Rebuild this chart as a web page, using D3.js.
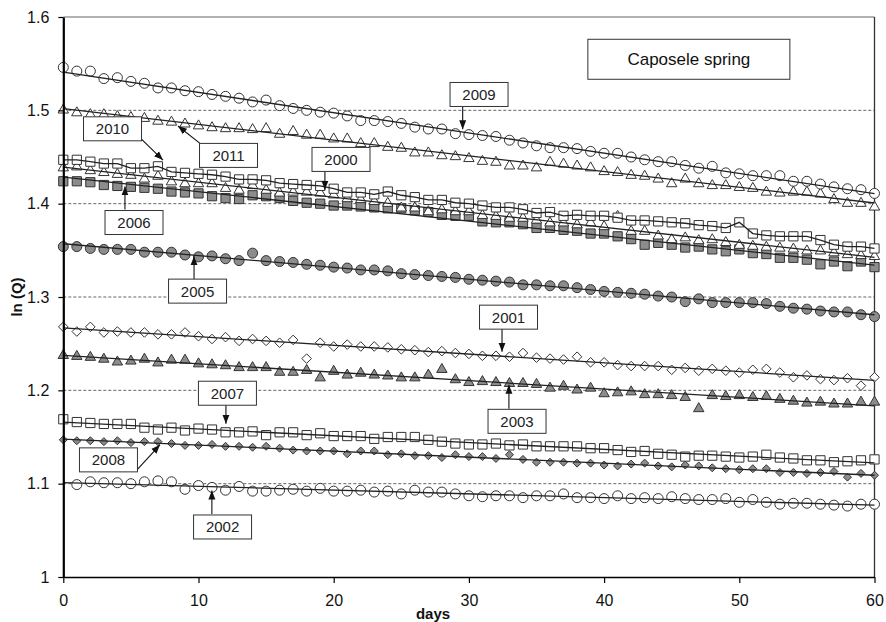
<!DOCTYPE html>
<html><head><meta charset="utf-8">
<script src="https://cdn.jsdelivr.net/npm/d3@7"></script>
<style>
html,body{margin:0;padding:0;background:#fff;}
svg{display:block;font-family:"Liberation Sans",Arial,sans-serif;}
</style></head>
<body><svg id="c" width="886" height="622"></svg>
<script>
// ---- data (ln Q, days 0..60) ----
const days = d3.range(0, 61);
const yTicks = [1, 1.1, 1.2, 1.3, 1.4, 1.5, 1.6];
const xTicks = [0, 10, 20, 30, 40, 50, 60];

const s2009 = [1.546,1.542,1.542,1.534,1.535,1.531,1.529,1.524,1.524,1.521,
1.520,1.517,1.515,1.513,1.509,1.511,1.505,1.502,1.500,1.498,
1.497,1.494,1.489,1.489,1.488,1.486,1.482,1.480,1.480,1.475,
1.474,1.473,1.472,1.468,1.465,1.462,1.460,1.460,1.459,1.456,
1.454,1.454,1.450,1.447,1.445,1.445,1.441,1.438,1.440,1.433,
1.432,1.430,1.430,1.430,1.424,1.424,1.421,1.418,1.416,1.415,1.411];
const s2011 = [1.501,1.498,1.496,1.496,1.494,1.493,1.492,1.489,1.488,1.486,
1.484,1.482,1.481,1.481,1.480,1.481,1.475,1.478,1.474,1.474,
1.470,1.470,1.465,1.465,1.461,1.460,1.455,1.455,1.452,1.451,
1.449,1.446,1.445,1.441,1.441,1.439,1.445,1.443,1.441,1.439,
1.435,1.434,1.431,1.430,1.427,1.422,1.427,1.422,1.420,1.420,
1.418,1.417,1.413,1.412,1.413,1.413,1.411,1.405,1.401,1.401,1.397];
const s2010 = [1.447,1.447,1.445,1.443,1.443,1.438,1.438,1.440,1.434,1.433,
1.432,1.431,1.429,1.426,1.426,1.425,1.422,1.421,1.420,1.419,
1.416,1.412,1.412,1.410,1.413,1.409,1.407,1.404,1.404,1.401,
1.400,1.398,1.396,1.396,1.394,1.390,1.391,1.387,1.388,1.387,
1.387,1.385,1.382,1.382,1.381,1.380,1.379,1.377,1.376,1.374,
1.380,1.368,1.366,1.365,1.365,1.365,1.361,1.356,1.354,1.354,1.352];
const s2000 = [1.439,1.440,1.436,1.434,1.432,1.431,1.427,1.430,1.424,1.422,
1.422,1.422,1.417,1.415,1.420,1.415,1.412,1.413,1.413,1.412,
1.410,1.406,1.405,1.403,1.401,1.396,1.396,1.392,1.394,1.392,
1.392,1.388,1.387,1.385,1.385,1.383,1.380,1.380,1.378,1.380,
1.376,1.387,1.371,1.371,1.366,1.362,1.364,1.361,1.362,1.359,
1.356,1.355,1.354,1.353,1.352,1.350,1.350,1.348,1.346,1.345,1.344];
const s2006 = [1.424,1.424,1.423,1.420,1.419,1.418,1.417,1.416,1.413,1.412,
1.411,1.408,1.406,1.405,1.409,1.408,1.406,1.403,1.401,1.400,
1.398,1.398,1.397,1.396,1.395,1.395,1.393,1.391,1.388,1.387,
1.387,1.381,1.380,1.380,1.378,1.374,1.374,1.372,1.371,1.368,
1.368,1.365,1.362,1.356,1.358,1.356,1.353,1.354,1.351,1.349,
1.351,1.347,1.346,1.342,1.342,1.340,1.335,1.338,1.333,1.338,1.332];
const s2005 = [1.354,1.354,1.352,1.351,1.351,1.351,1.348,1.348,1.348,1.345,
1.343,1.344,1.341,1.339,1.347,1.339,1.338,1.337,1.335,1.334,
1.332,1.331,1.329,1.329,1.328,1.325,1.324,1.323,1.322,1.321,
1.319,1.318,1.317,1.316,1.313,1.313,1.312,1.312,1.310,1.308,
1.306,1.305,1.304,1.303,1.301,1.300,1.295,1.298,1.294,1.294,
1.294,1.294,1.293,1.290,1.288,1.287,1.285,1.284,1.284,1.281,1.279];
const s2001 = [1.268,1.263,1.268,1.262,1.263,1.262,1.262,1.260,1.260,1.262,
1.258,1.255,1.257,1.253,1.255,1.253,1.251,1.254,1.234,1.251,
1.247,1.249,1.247,1.247,1.246,1.244,1.243,1.241,1.242,1.240,
1.239,1.237,1.237,1.236,1.240,1.235,1.234,1.233,1.236,1.230,
1.230,1.227,1.226,1.226,1.226,1.222,1.224,1.221,1.223,1.221,
1.219,1.222,1.223,1.219,1.214,1.216,1.212,1.211,1.213,1.205,1.214];
const s2003 = [1.238,1.237,1.236,1.234,1.231,1.232,1.234,1.230,1.233,1.233,
1.229,1.228,1.227,1.225,1.225,1.225,1.220,1.220,1.222,1.214,
1.221,1.217,1.219,1.217,1.216,1.214,1.214,1.217,1.223,1.212,
1.209,1.210,1.209,1.208,1.208,1.207,1.203,1.205,1.201,1.203,
1.197,1.198,1.199,1.196,1.196,1.195,1.193,1.181,1.195,1.194,
1.195,1.193,1.194,1.191,1.189,1.187,1.188,1.186,1.186,1.188,1.188];
const s2007 = [1.169,1.166,1.165,1.164,1.164,1.164,1.160,1.158,1.160,1.157,
1.159,1.158,1.155,1.155,1.156,1.152,1.155,1.155,1.152,1.154,
1.151,1.151,1.151,1.148,1.150,1.150,1.150,1.147,1.145,1.143,
1.142,1.142,1.143,1.141,1.142,1.140,1.140,1.140,1.140,1.138,
1.138,1.136,1.134,1.135,1.132,1.131,1.129,1.130,1.130,1.129,
1.128,1.129,1.131,1.128,1.127,1.125,1.125,1.123,1.124,1.125,1.126];
const s2008 = [1.147,1.146,1.146,1.145,1.146,1.144,1.145,1.145,1.143,1.141,
1.141,1.142,1.140,1.140,1.139,1.140,1.138,1.136,1.135,1.135,
1.135,1.132,1.135,1.135,1.131,1.132,1.130,1.130,1.128,1.131,
1.129,1.129,1.127,1.131,1.126,1.123,1.123,1.123,1.122,1.122,
1.120,1.119,1.121,1.122,1.119,1.118,1.120,1.119,1.117,1.116,
1.115,1.116,1.116,1.112,1.112,1.111,1.112,1.113,1.107,1.111,1.109];
const s2002 = [null,1.099,1.102,1.101,1.101,1.100,1.102,1.103,1.102,1.094,
1.098,1.096,1.093,1.097,1.092,1.092,1.093,1.094,1.092,1.095,
1.092,1.092,1.093,1.091,1.092,1.089,1.093,1.091,1.091,1.089,
1.087,1.086,1.087,1.087,1.085,1.087,1.087,1.089,1.085,1.085,
1.084,1.087,1.084,1.085,1.084,1.086,1.084,1.083,1.083,1.084,
1.080,1.083,1.080,1.078,1.079,1.079,1.078,1.077,1.076,1.078,1.078];

// ---- series styling ----
const GRAY = "#8c8c8c", STROKE = "#333";
const series = [
  {name:"2002", values:s2002, shape:"circle",   fill:"#fff", fit:true},
  {name:"2008", values:s2008, shape:"diamondS", fill:GRAY,   fit:true},
  {name:"2007", values:s2007, shape:"square",   fill:"#fff", fit:true},
  {name:"2003", values:s2003, shape:"triangle", fill:GRAY,   fit:true},
  {name:"2001", values:s2001, shape:"diamond",  fill:"#fff", fit:true},
  {name:"2005", values:s2005, shape:"circle",   fill:GRAY,   fit:true},
  {name:"2006", values:s2006, shape:"square",   fill:GRAY,   fit:true},
  {name:"2000", values:s2000, shape:"triangle", fill:"#fff", fit:true},
  {name:"2010", values:s2010, shape:"square",   fill:"#fff", fit:false},
  {name:"2011", values:s2011, shape:"triangle", fill:"#fff", fit:true},
  {name:"2009", values:s2009, shape:"circle",   fill:"#fff", fit:true}
];

const shapes = {
  circle:   "M5,0A5,5 0 1,1 -5,0A5,5 0 1,1 5,0Z",
  square:   "M-4.6,-4.6H4.6V4.6H-4.6Z",
  triangle: "M0,-5.4L5.2,3.6H-5.2Z",
  diamond:  "M0,-4.8L4.8,0L0,4.8L-4.8,0Z",
  diamondS: "M0,-4L4,0L0,4L-4,0Z"
};

const svg = d3.select("#c");
const x = d3.scaleLinear().domain([0, 60]).range([63.3, 874.5]);
const y = d3.scaleLinear().domain([1, 1.6]).range([577, 17]);

// gridlines
svg.append("g").selectAll("line").data(yTicks.filter(v => v > 1 && v < 1.6)).join("line")
  .attr("x1", x(0)).attr("x2", x(60)).attr("y1", d => y(d)).attr("y2", d => y(d))
  .attr("stroke", "#555").attr("stroke-width", 0.9).attr("stroke-dasharray", "3,2");
// top & right frame
svg.append("line").attr("x1", x(0)).attr("x2", x(60)).attr("y1", y(1.6)).attr("y2", y(1.6))
  .attr("stroke", "#666").attr("stroke-width", 1);
svg.append("line").attr("x1", x(60)).attr("x2", x(60)).attr("y1", y(1.6)).attr("y2", y(1))
  .attr("stroke", "#333").attr("stroke-width", 1.3);

// markers
series.forEach(s => {
  const pts = days.map((d, i) => ({d, v: s.values[i]})).filter(p => p.v != null);
  svg.append("g").selectAll("path").data(pts).join("path")
    .attr("d", shapes[s.shape])
    .attr("transform", p => `translate(${x(p.d)},${y(p.v)})`)
    .attr("fill", s.fill).attr("stroke", STROKE).attr("stroke-width", 1);
});

// lines (least squares fit in ln space; 2010 joined)
series.forEach(s => {
  const pts = days.map((d, i) => ({d, v: s.values[i]})).filter(p => p.v != null);
  let lineData;
  if (s.fit) {
    const mx = d3.mean(pts, p => p.d), my = d3.mean(pts, p => p.v);
    const b = d3.sum(pts, p => (p.d - mx) * (p.v - my)) / d3.sum(pts, p => (p.d - mx) ** 2);
    const a = my - b * mx;
    lineData = [{d: 0, v: a}, {d: 60, v: a + b * 60}];
  } else lineData = pts;
  svg.append("path").datum(lineData)
    .attr("d", d3.line().x(p => x(p.d)).y(p => y(p.v)))
    .attr("fill", "none").attr("stroke", "#222").attr("stroke-width", 1.3);
});

// axes
const yAxis = svg.append("g").attr("transform", `translate(${x(0)},0)`)
  .call(d3.axisLeft(y).tickValues(yTicks).tickSizeInner(5).tickSizeOuter(0).tickPadding(9)
    .tickFormat(d => d === 1 ? "1" : d3.format(".1f")(d)));
yAxis.select(".domain").attr("stroke", "#000").attr("stroke-width", 2.2);
yAxis.selectAll(".tick line").attr("stroke", "#000").attr("stroke-width", 1.2);
yAxis.selectAll("text").attr("font-size", 16).attr("fill", "#111").attr("font-family", "Liberation Sans, Arial");

const xAxis = svg.append("g").attr("transform", `translate(0,${y(1)})`)
  .call(d3.axisBottom(x).tickValues(xTicks).tickSizeInner(6).tickSizeOuter(0).tickPadding(12));
xAxis.select(".domain").attr("stroke", "#000").attr("stroke-width", 1.6);
xAxis.selectAll(".tick line").attr("stroke", "#000").attr("stroke-width", 1.2);
xAxis.selectAll("text").attr("font-size", 16).attr("fill", "#111").attr("font-family", "Liberation Sans, Arial");

svg.append("text").attr("transform", `translate(22,${y(1.3)}) rotate(-90)`)
  .attr("text-anchor", "middle").attr("font-size", 15).attr("font-weight", "bold").attr("fill", "#111")
  .text("ln (Q)");
svg.append("text").attr("x", 433).attr("y", 619).attr("text-anchor", "middle")
  .attr("font-size", 15).attr("font-weight", "bold").attr("fill", "#111").text("days");

// arrowhead
svg.append("defs").append("marker").attr("id", "ah").attr("viewBox", "0 -4 9 8")
  .attr("refX", 9).attr("refY", 0).attr("markerUnits", "userSpaceOnUse")
  .attr("markerWidth", 9).attr("markerHeight", 8).attr("orient", "auto")
  .append("path").attr("d", "M0,-3.5L9,0L0,3.5Z").attr("fill", "#111");

// annotations (data units)
const notes = [
  {t:"2009", c:[30.75,1.517], a:[29.54,1.5043,29.54,1.4796]},
  {t:"2010", c:[3.64,1.4802],  a:[5.80,1.4689,7.37,1.4467]},
  {t:"2011", c:[12.22,1.4517], a:[10.11,1.4646,8.48,1.4832]},
  {t:"2000", c:[20.54,1.4474], a:[19.35,1.4346,19.35,1.4149]},
  {t:"2006", c:[5.23,1.3798],  a:[4.56,1.3938,4.56,1.4185]},
  {t:"2005", c:[9.93,1.3063],  a:[9.67,1.3187,9.67,1.3437]},
  {t:"2001", c:[32.93,1.2784], a:[32.45,1.2661,32.45,1.2414]},
  {t:"2003", c:[33.56,1.1668], a:[32.96,1.1803,32.96,1.2060]},
  {t:"2007", c:[12.14,1.1969], a:[12.03,1.1845,12.03,1.1642]},
  {t:"2008", c:[3.34,1.1255],  a:[5.45,1.1148,7.15,1.1416]},
  {t:"2002", c:[11.78,1.0536], a:[10.99,1.0676,10.99,1.0926]}
];
const ng = svg.append("g");
notes.forEach(n => {
  ng.append("line").attr("x1", x(n.a[0])).attr("y1", y(n.a[1])).attr("x2", x(n.a[2])).attr("y2", y(n.a[3]))
    .attr("stroke", "#111").attr("stroke-width", 1.1).attr("marker-end", "url(#ah)");
  const cx = x(n.c[0]), cy = y(n.c[1]);
  ng.append("rect").attr("x", cx - 29).attr("y", cy - 12).attr("width", 58).attr("height", 24)
    .attr("fill", "#fff").attr("stroke", "#333").attr("stroke-width", 1);
  ng.append("text").attr("x", cx).attr("y", cy + 5.5).attr("text-anchor", "middle")
    .attr("font-size", 15).attr("fill", "#222").text(n.t);
});
// title box
const tc = [x(46.27), y(1.5547)];
svg.append("rect").attr("x", tc[0] - 101).attr("y", tc[1] - 20).attr("width", 202).attr("height", 40)
  .attr("fill", "#fff").attr("stroke", "#333").attr("stroke-width", 1);
svg.append("text").attr("x", tc[0]).attr("y", tc[1] + 6).attr("text-anchor", "middle")
  .attr("font-size", 17).attr("fill", "#111").text("Caposele spring");
</script></body></html>
